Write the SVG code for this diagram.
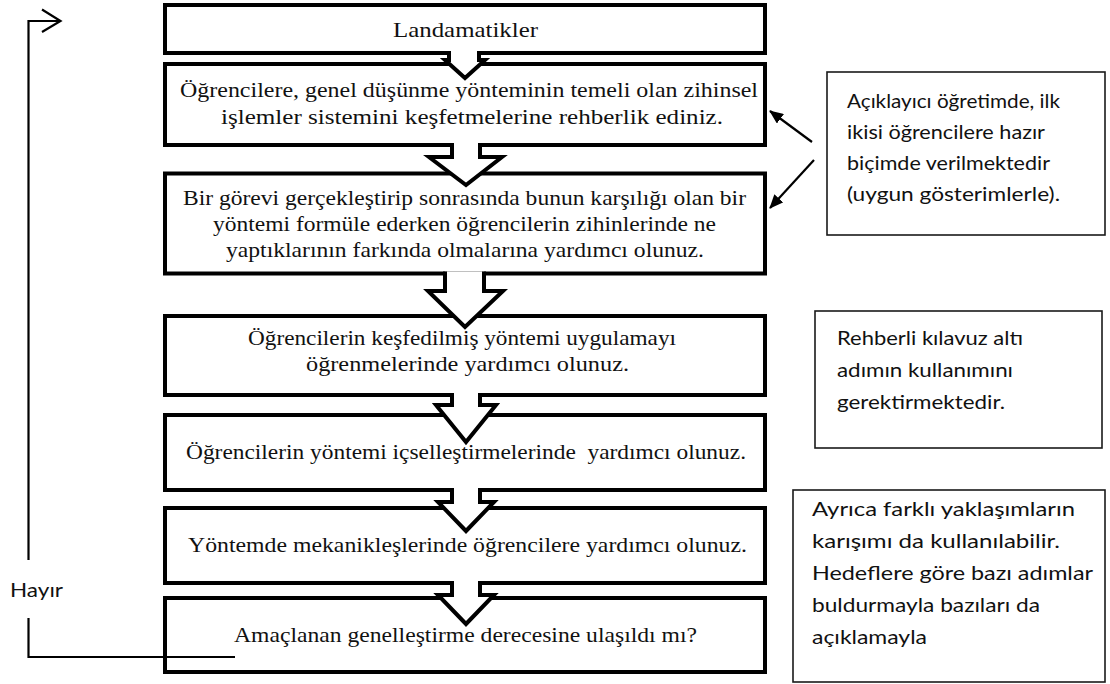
<svg xmlns="http://www.w3.org/2000/svg" width="1110" height="684" viewBox="0 0 1110 684">
  <style>
    .step { fill: #fff; stroke: #000; stroke-width: 4; }
    .note { fill: #fff; stroke: #1a1a1a; stroke-width: 1.6; }
    .stxt { font-family: "Liberation Serif", "Times New Roman", serif; font-size: 22px; fill: #111; }
    .ntxt { font-family: Lato, "Noto Sans", sans-serif; font-size: 20px; fill: #111; }
    .bfill { fill: #fff; stroke: none; }
    .bline { fill: none; stroke: #000; stroke-width: 4; stroke-linejoin: miter; }
    .wire { fill: none; stroke: #000; stroke-width: 2.2; }
  </style>
  <defs>
    <marker id="head" markerUnits="userSpaceOnUse" markerWidth="14" markerHeight="12" refX="13" refY="6" orient="auto">
      <path d="M0,0 L14,6 L0,12 z" fill="#000"/>
    </marker>
  </defs>

  <rect width="1110" height="684" fill="#fff"/>

  <!-- flow steps -->
  <g id="step1">
    <rect class="step" x="165" y="5" width="600" height="48"/>
    <text class="stxt" x="393" y="37" textLength="145" lengthAdjust="spacingAndGlyphs">Landamatikler</text>
  </g>
  <g id="step2">
    <rect class="step" x="165" y="64" width="600" height="81"/>
    <text class="stxt" x="180" y="97" textLength="578" lengthAdjust="spacingAndGlyphs">Öğrencilere, genel düşünme yönteminin temeli olan zihinsel</text>
    <text class="stxt" x="221" y="124" textLength="502" lengthAdjust="spacingAndGlyphs">işlemler sistemini keşfetmelerine rehberlik ediniz.</text>
  </g>
  <g id="step3">
    <rect class="step" x="165" y="173.5" width="600" height="100"/>
    <text class="stxt" x="183" y="205" textLength="563" lengthAdjust="spacingAndGlyphs">Bir görevi gerçekleştirip sonrasında bunun karşılığı olan bir</text>
    <text class="stxt" x="213" y="231" textLength="503" lengthAdjust="spacingAndGlyphs">yöntemi formüle ederken öğrencilerin zihinlerinde ne</text>
    <text class="stxt" x="226" y="257" textLength="478" lengthAdjust="spacingAndGlyphs">yaptıklarının farkında olmalarına yardımcı olunuz.</text>
  </g>
  <g id="step4">
    <rect class="step" x="165" y="316" width="600" height="79"/>
    <text class="stxt" x="248" y="345" textLength="428" lengthAdjust="spacingAndGlyphs">Öğrencilerin keşfedilmiş yöntemi uygulamayı</text>
    <text class="stxt" x="306" y="371" textLength="323" lengthAdjust="spacingAndGlyphs">öğrenmelerinde yardımcı olunuz.</text>
  </g>
  <g id="step5">
    <rect class="step" x="165" y="415" width="600" height="75"/>
    <text class="stxt" x="186" y="459" textLength="560" lengthAdjust="spacingAndGlyphs" xml:space="preserve">Öğrencilerin yöntemi içselleştirmelerinde  yardımcı olunuz.</text>
  </g>
  <g id="step6">
    <rect class="step" x="165" y="508" width="600" height="75"/>
    <text class="stxt" x="188" y="552" textLength="559" lengthAdjust="spacingAndGlyphs">Yöntemde mekanikleşlerinde öğrencilere yardımcı olunuz.</text>
  </g>
  <g id="step7">
    <rect class="step" x="165" y="598" width="600" height="74"/>
    <text class="stxt" x="234" y="642" textLength="463" lengthAdjust="spacingAndGlyphs">Amaçlanan genelleştirme derecesine ulaşıldı mı?</text>
  </g>

  <!-- side notes -->
  <g id="note-expository">
    <rect class="note" x="827" y="72" width="278" height="163"/>
    <text class="ntxt" x="847" y="108" textLength="213" lengthAdjust="spacingAndGlyphs">Açıklayıcı öğretimde, ilk</text>
    <text class="ntxt" x="847" y="139" textLength="198" lengthAdjust="spacingAndGlyphs">ikisi öğrencilere hazır</text>
    <text class="ntxt" x="847" y="170" textLength="203" lengthAdjust="spacingAndGlyphs">biçimde verilmektedir</text>
    <text class="ntxt" x="847" y="201" textLength="213" lengthAdjust="spacingAndGlyphs">(uygun gösterimlerle).</text>
  </g>
  <g id="note-guided">
    <rect class="note" x="815" y="311" width="287" height="137"/>
    <text class="ntxt" x="837" y="345" textLength="186" lengthAdjust="spacingAndGlyphs">Rehberli kılavuz altı</text>
    <text class="ntxt" x="837" y="377" textLength="176" lengthAdjust="spacingAndGlyphs">adımın kullanımını</text>
    <text class="ntxt" x="837" y="409" textLength="168" lengthAdjust="spacingAndGlyphs">gerektirmektedir.</text>
  </g>
  <g id="note-mixed">
    <rect class="note" x="793" y="490" width="312" height="192"/>
    <text class="ntxt" x="812" y="516" textLength="263" lengthAdjust="spacingAndGlyphs">Ayrıca farklı yaklaşımların</text>
    <text class="ntxt" x="812" y="548" textLength="248" lengthAdjust="spacingAndGlyphs">karışımı da kullanılabilir.</text>
    <text class="ntxt" x="812" y="580" textLength="281" lengthAdjust="spacingAndGlyphs">Hedeflere göre bazı adımlar</text>
    <text class="ntxt" x="812" y="612" textLength="228" lengthAdjust="spacingAndGlyphs">buldurmayla bazıları da</text>
    <text class="ntxt" x="812" y="644" textLength="115" lengthAdjust="spacingAndGlyphs">açıklamayla</text>
  </g>
  <g id="label-no">
    <text class="ntxt" x="10" y="597" textLength="53" lengthAdjust="spacingAndGlyphs">Hayır</text>
  </g>

  <!-- connectors -->
  <g id="connectors">
    <!-- block arrows between steps -->
    <g id="a1">
      <polygon class="bfill" points="449,51 479,51 479,60 485,60 465,78 445,60 449,60"/>
      <path class="bline" d="M449,51 V60 H445 L465,78 L485,60 H479 V51"/>
    </g>
    <g id="a2">
      <polygon class="bfill" points="452,143 480,143 480,157 502,157 466,185 429,157 452,157"/>
      <path class="bline" d="M452,143 V157 H429 L466,185 L502,157 H480 V143"/>
    </g>
    <g id="a3">
      <polygon class="bfill" points="445,271.5 484,271.5 484,291 503,291 465,327 428,291 445,291"/>
      <path class="bline" d="M445,271.5 V291 H428 L465,327 L503,291 H484 V271.5"/>
    </g>
    <g id="a4">
      <polygon class="bfill" points="452,393 480,393 480,405 496,405 466,442 436,405 452,405"/>
      <path class="bline" d="M452,393 V405 H436 L466,442 L496,405 H480 V393"/>
    </g>
    <g id="a5">
      <polygon class="bfill" points="452,488 480,488 480,502 494,502 466,531 438,502 452,502"/>
      <path class="bline" d="M452,488 V502 H438 L466,531 L494,502 H480 V488"/>
    </g>
    <g id="a6">
      <polygon class="bfill" points="452,581 480,581 480,595 494,595 466,624 438,595 452,595"/>
      <path class="bline" d="M452,581 V595 H438 L466,624 L494,595 H480 V581"/>
    </g>

    <!-- note pointers -->
    <line class="wire" x1="812" y1="142" x2="770" y2="111" marker-end="url(#head)"/>
    <line class="wire" x1="814" y1="160" x2="770" y2="208" marker-end="url(#head)"/>

    <!-- "no" loop back to the top -->
    <path class="wire" d="M235,657 H28.5 V618"/>
    <path class="wire" d="M28.5,560 V21 H60"/>
    <path class="wire" d="M42,9.5 L60.5,21 L42,32"/>
  </g>
</svg>
